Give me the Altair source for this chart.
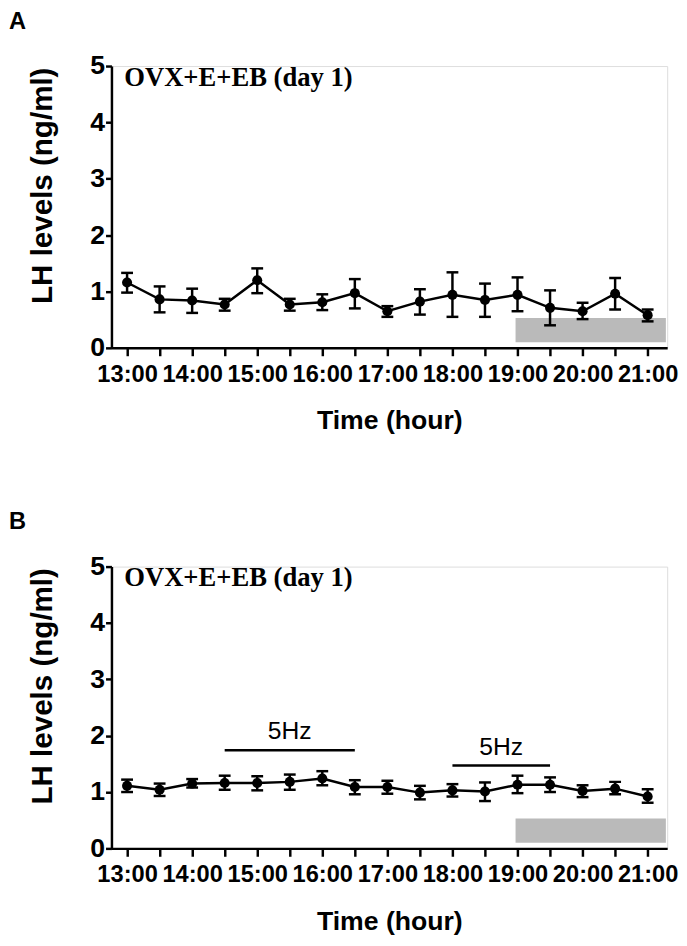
import altair as alt
import pandas as pd

# ---------------- data ----------------
times = [13.0, 13.5, 14.0, 14.5, 15.0, 15.5, 16.0, 16.5, 17.0,
         17.5, 18.0, 18.5, 19.0, 19.5, 20.0, 20.5, 21.0]
y_ticks = [0, 1, 2, 3, 4, 5]

a_mean = [1.16, 0.86, 0.84, 0.77, 1.20, 0.77, 0.81, 0.97, 0.65,
          0.82, 0.94, 0.85, 0.94, 0.71, 0.65, 0.96, 0.58]
a_lo = [0.98, 0.63, 0.62, 0.66, 0.97, 0.66, 0.67, 0.70, 0.55,
        0.59, 0.55, 0.55, 0.65, 0.40, 0.51, 0.68, 0.47]
a_hi = [1.33, 1.09, 1.05, 0.87, 1.41, 0.87, 0.95, 1.22, 0.74,
        1.04, 1.34, 1.14, 1.25, 1.02, 0.80, 1.24, 0.68]

b_mean = [1.11, 1.04, 1.15, 1.16, 1.16, 1.18, 1.24, 1.09, 1.09,
          0.99, 1.03, 1.01, 1.13, 1.13, 1.02, 1.06, 0.92]
b_lo = [1.00, 0.93, 1.08, 1.04, 1.03, 1.04, 1.12, 0.96, 0.97,
        0.87, 0.92, 0.84, 0.98, 1.00, 0.91, 0.96, 0.81]
b_hi = [1.22, 1.15, 1.23, 1.29, 1.28, 1.31, 1.37, 1.21, 1.20,
        1.11, 1.14, 1.17, 1.29, 1.26, 1.12, 1.18, 1.05]

# dark-phase bar (grey)
dark_x = [18.97]
dark_x2 = [21.28]
dark_y = [0.10]
dark_y2 = [0.53]

# stimulation bars in panel B
stim_start = [14.5, 18.0]
stim_end = [16.5, 19.5]
stim_level = [1.74, 1.47]
stim_label = ["5Hz", "5Hz"]
stim_label_x = [15.5, 18.75]
stim_label_y = [2.08, 1.79]

group_label = "OVX+E+EB (day 1)"

# ---------------- styles ----------------
SANS = "Liberation Sans, Arial, sans-serif"
SERIF = "Liberation Serif, Times New Roman, serif"
W, H = 564, 286
LW = 2.5

xscale = alt.Scale(domain=[12.76, 21.3], nice=False, zero=False)
yscale = alt.Scale(domain=[0, 5], nice=False, zero=True)

xaxis = alt.Axis(
    values=times, labelExpr="datum.value % 1 == 0 ? datum.value + ':00' : ''",
    title="Time (hour)", grid=False,
    domainColor="black", domainWidth=LW, tickColor="black", tickWidth=LW, tickSize=8,
    labelFont=SANS, labelFontSize=24, labelFontWeight="bold", labelColor="black",
    labelPadding=7, labelOverlap=False, labelFlush=False,
    titleFont=SANS, titleFontSize=27, titleFontWeight="bold", titleColor="black",
    titlePadding=22,
)
yaxis = alt.Axis(
    values=y_ticks, format="d", title="LH levels (ng/ml)", grid=False,
    domainColor="black", domainWidth=LW, tickColor="black", tickWidth=LW, tickSize=6,
    labelFont=SANS, labelFontSize=27, labelFontWeight="bold", labelColor="black",
    labelPadding=1, labelFlush=False,
    titleFont=SANS, titleFontSize=30, titleFontWeight="bold", titleColor="black",
    titleBaseline="alphabetic", titleX=-61, titleY=121, titleAlign="center", titleAngle=270,
)


def X(field):
    return alt.X(field, type="quantitative", scale=xscale, axis=xaxis)


def Y(field):
    return alt.Y(field, type="quantitative", scale=yscale, axis=yaxis)


def panel(letter, mean, lo, hi, with_stim):
    df = pd.DataFrame({"t": times, "m": mean, "lo": lo, "hi": hi})
    dark = pd.DataFrame({"x1": dark_x, "x2": dark_x2, "y1": dark_y, "y2": dark_y2})
    base = alt.Chart(df)

    rect = alt.Chart(dark).mark_rect(color="#bababa").encode(
        x=X("x1"), x2="x2", y=Y("y1"), y2="y2")
    stems = base.mark_rule(color="black", strokeWidth=LW).encode(
        x=X("t"), y=Y("lo"), y2="hi")
    cap_hi = base.mark_tick(orient="horizontal", color="black", size=12,
                            thickness=LW, opacity=1).encode(x=X("t"), y=Y("hi"))
    cap_lo = base.mark_tick(orient="horizontal", color="black", size=12,
                            thickness=LW, opacity=1).encode(x=X("t"), y=Y("lo"))
    line = base.mark_line(color="black", strokeWidth=LW).encode(x=X("t"), y=Y("m"))
    pts = base.mark_circle(color="black", size=105, opacity=1).encode(x=X("t"), y=Y("m"))

    note = alt.Chart(pd.DataFrame({"s": [group_label]})).mark_text(
        font=SERIF, fontSize=27, fontWeight="bold", align="left",
        baseline="alphabetic", color="black").encode(
        x=alt.value(13), y=alt.value(20), text="s:N")
    let = alt.Chart(pd.DataFrame({"s": [letter]})).mark_text(
        font=SANS, fontSize=24, fontWeight="bold", align="left",
        baseline="alphabetic", color="black").encode(
        x=alt.value(-104), y=alt.value(-38), text="s:N")

    layers = [rect, stems, cap_hi, cap_lo, line, pts, note, let]
    if with_stim:
        sdf = pd.DataFrame({"x1": stim_start, "x2": stim_end, "y": stim_level,
                            "lx": stim_label_x, "ly": stim_label_y, "s": stim_label})
        bars = alt.Chart(sdf).mark_rule(color="black", strokeWidth=LW).encode(
            x=X("x1"), x2="x2", y=Y("y"))
        labs = alt.Chart(sdf).mark_text(font=SANS, fontSize=25, color="black",
                                        baseline="middle", align="center").encode(
            x=X("lx"), y=Y("ly"), text="s:N")
        layers += [bars, labs]
    return alt.layer(*layers).properties(width=W, height=H)


chart = alt.vconcat(
    panel("A", a_mean, a_lo, a_hi, False),
    panel("B", b_mean, b_lo, b_hi, True),
    spacing=222, bounds="flush",
).properties(
    padding={"top": -6, "left": 0, "right": 0, "bottom": -6}
).configure_view(stroke=None).configure(background="white")

chart.save("out.html", embed_options={"renderer": "svg", "actions": False})
